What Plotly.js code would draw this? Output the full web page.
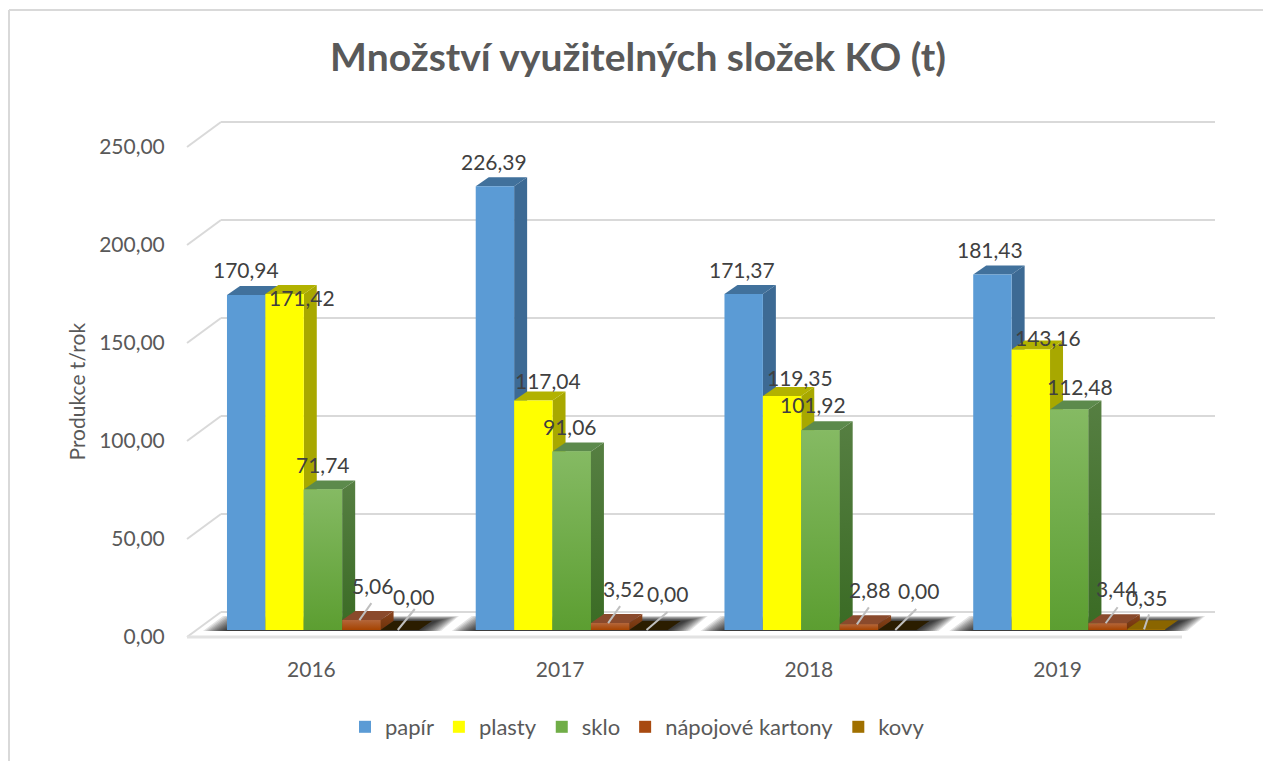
<!DOCTYPE html>
<html><head><meta charset="utf-8">
<script src="https://cdn.plot.ly/plotly-3.0.1.min.js"></script>
<style>html,body{margin:0;padding:0;background:#fff}#c{width:1263px;height:761px}</style>
</head><body><div id="c"></div>
<script>
// ---- data ----
const years = [2016, 2017, 2018, 2019];
const seriesNames = ['papír', 'plasty', 'sklo', 'nápojové kartony', 'kovy'];
const papir = [170.94, 226.39, 171.37, 181.43];
const plasty = [171.42, 117.04, 119.35, 143.16];
const sklo = [71.74, 91.06, 101.92, 112.48];
const kartony = [5.06, 3.52, 2.88, 3.44];
const kovy = [0.00, 0.00, 0.00, 0.35];
const yTicks = [0, 50, 100, 150, 200, 250];
const yTickText = ['0,00', '50,00', '100,00', '150,00', '200,00', '250,00'];

// ---- styles ----
const front = ['#5b9bd5', '#ffff00', '#70ad47', '#a84a10', '#a07000'];
const topFace = ['#41719c', '#b2b200', '#5c8a4c', '#8a4a2c', '#8a6500'];
const sideFace = ['#3d6a94', '#a8a800'];
const frontGrad = { 2: ['#5c9e31', '#85ba63'], 3: ['#a64300', '#b4663a'], 4: ['#9c6f00', '#a88436'] };
const sideGrad = { 2: ['#3a6b24', '#567f42'], 3: ['#6e3208', '#8a4520'], 4: ['#6a4c00', '#7a5a10'] };
const zeroTop = '#2b1d00';

// ---- geometry (pixels to axis units) ----
const pxYear = 248.75, pxUnit = 1.96;
const pL = 180, pR = 1220, pT = 110, pB = 641;
const x0Px = 187, y0Px = 637;          // 2015.5 and 0 on the front edge
const xr = [2015.5 - (x0Px - pL) / pxYear, 2015.5 + (pR - x0Px) / pxYear];
const yr = [-(pB - y0Px) / pxUnit, (y0Px - pT) / pxUnit];
const dX = 34 / pxYear, dY = 25 / pxUnit;     // wall depth
const sX = 13 / pxYear, sY = 9 / pxUnit;      // column depth
const base = 7 / pxUnit;                      // columns stand mid-floor
const barW = 38.4 / pxYear, firstOff = -84.4 / pxYear;
const values = [papir, plasty, sklo, kartony, kovy];
const left = (i, k) => years[i] + firstOff + k * barW;
const pathOf = pts => 'M' + pts.map(p => p[0] + ',' + p[1]).join('L') + 'Z';
const sidePts = (i, k) => { const r = left(i, k) + barW, t = base + values[k][i];
  return [[r, base], [r + sX, base + sY], [r + sX, t + sY], [r, t]]; };
const topPts = (i, k) => { const l = left(i, k), t = base + values[k][i];
  return [[l, t], [l + barW, t], [l + barW + sX, t + sY], [l + sX, t + sY]]; };
const frontPts = (i, k) => { const l = left(i, k), t = base + values[k][i];
  return [[l, base], [l + barW, base], [l + barW, t], [l, t]]; };

const shapes = [];
// chart frame
const fx = p => (p - pL) / (pR - pL), fy = p => 1 - (p - pT) / (pB - pT);
const frame = { type: 'line', xref: 'paper', yref: 'paper', line: { color: '#d9d9d9', width: 2 }, layer: 'below' };
shapes.push({ ...frame, x0: fx(9), x1: fx(9), y0: fy(10), y1: fy(761) });
shapes.push({ ...frame, x0: fx(9), x1: fx(1263), y0: fy(10), y1: fy(10) });
// grid: diagonal on the side wall plus line on the back wall
const gridLine = { color: '#d9d9d9', width: 2 };
const line = (xa, ya, xb, yb, l) => ({ type: 'line', xref: 'x', yref: 'y', layer: 'below', x0: xa, y0: ya, x1: xb, y1: yb, line: l });
const backX = 2015.5 + dX, endX = xr[1] - (pR - 1215) / pxYear;
yTicks.forEach(v => {
  shapes.push(line(2015.5, v, backX, v + dY, gridLine));
  shapes.push(line(backX, v + dY, endX, v + dY, gridLine));
});
shapes.push(line(2015.5, 0, 2019.5, 0, { color: '#e2e2e2', width: 3 }));
// soft floor shadow under each group: stacked translucent layers
const shadowInsets = [0, 2, 4, 6, 8, 10, 12, 14, 16, 18, 20, 22];
years.forEach((yr_, i) => {
  const l = left(i, 0), r = left(i, 4) + barW, u = 1 / pxYear;
  shadowInsets.forEach(g => {
    const tv = base + (14 - g * 0.22) / pxUnit, bv = base - 1 / pxUnit;
    shapes.push({ type: 'path', xref: 'x', yref: 'y', layer: 'below', opacity: 0.11, fillcolor: '#000', line: { width: 0 },
      path: pathOf([[l + (g - 24) * u, bv], [r + (22 - g) * u, bv], [r + (40 - g) * u, tv], [l + (g - 4) * u, tv]]) });
  });
});
// column depth faces that sit behind the next column
const face = (pts, c) => ({ type: 'path', xref: 'x', yref: 'y', layer: 'below', fillcolor: c, line: { width: 0 }, path: pathOf(pts) });
years.forEach((yr_, i) => {
  [0, 1, 2].forEach(k => {
    if (k < 2) shapes.push(face(sidePts(i, k), sideFace[k]));
    shapes.push(face(topPts(i, k), topFace[k]));
  });
});

// ---- traces ----
const traces = values.map((vals, k) => ({
  type: 'bar', name: seriesNames[k], x: years, y: vals, base: years.map(() => base),
  width: barW, offset: firstOff + k * barW, marker: { color: front[k], line: { width: 0 } }, hoverinfo: 'name+y'
}));
const poly = (pts, grad, flat) => {
  const t = { type: 'scatter', mode: 'lines', x: pts.map(p => p[0]).concat(pts[0][0]), y: pts.map(p => p[1]).concat(pts[0][1]),
    fill: 'toself', line: { width: 0 }, hoverinfo: 'skip', showlegend: false };
  if (grad) t.fillgradient = { type: 'vertical', colorscale: [[0, grad[0]], [1, grad[1]]] };
  else t.fillcolor = flat;
  return t;
};
years.forEach((yr_, i) => {
  traces.push(poly(frontPts(i, 2), frontGrad[2]));
  traces.push(poly(sidePts(i, 2), sideGrad[2]));
  [3, 4].forEach(k => {
    const v = values[k][i];
    traces.push(poly(sidePts(i, k), sideGrad[k]));
    traces.push(poly(topPts(i, k), null, v > 0 ? topFace[k] : zeroTop));
    if (v > 0) traces.push(poly(frontPts(i, k), frontGrad[k]));
  });
});

// ---- data labels ----
const fmt = v => v.toFixed(2).replace('.', ',');
const labelShift = [
  [[0, -25], [-1, -25], [-2, -25], [-2, -25]],
  [[17, 3], [15, -20], [18, -19], [17, -12]],
  [[0, -25], [-2, -25], [-7, -26], [11, -23]],
  [[11, -35], [13, -35], [11, -35], [9, -35]],
  [[14, -34], [19, -37], [21, -40], [0, -32]]
];
// where each small column's leader line ends, relative to the column top
const leaderEnd = {
  3: [[10, -17], [10, -17], [10, -17], [10, -16]],
  4: [[15, -21], [19, -18], [19, -21], [3, -15]]
};
const leaderLine = { color: '#bfbfbf', width: 2 };
const family = 'Lato, Carlito, sans-serif';
const labelFont = { family, size: 21, color: '#404040' };
const annotations = [];
values.forEach((vals, k) => vals.forEach((v, i) => {
  const ax = left(i, k) + barW / 2, ay = base + v, s = labelShift[k][i];
  annotations.push({ x: ax, y: ay, xref: 'x', yref: 'y', text: fmt(v), font: labelFont, xanchor: 'center', yanchor: 'middle',
    showarrow: false, xshift: s[0], yshift: -s[1] });
  if (k >= 3) {
    const e = leaderEnd[k][i];
    shapes.push({ ...line(ax - 2 / pxYear, ay, ax + e[0] / pxYear, ay - e[1] / pxUnit, leaderLine), layer: 'above' });
  }
}));
// value-axis title (sits below the axis centre in the reference)
annotations.push({ text: 'Produkce t/rok', xref: 'paper', yref: 'paper', x: fx(76), y: fy(391.5), textangle: -90, showarrow: false,
  xanchor: 'center', yanchor: 'middle', font: { family, size: 21, color: '#595959' } });

const tickFont = { family, size: 21, color: '#595959' };
const layout = {
  width: 1263, height: 761, autosize: false,
  margin: { l: pL, r: 1263 - pR, t: pT, b: 761 - pB, pad: 0 },
  paper_bgcolor: '#fff', plot_bgcolor: 'rgba(0,0,0,0)',
  barmode: 'overlay',
  title: { text: '<b>Množství využitelných složek KO (t)</b>', x: 638 / 1263, xanchor: 'center', y: 1 - 57 / 761, yanchor: 'middle',
    font: { family, size: 39, color: '#595959' } },
  xaxis: { range: xr, tickmode: 'array', tickvals: years, ticktext: years.map(String), tickfont: tickFont, showgrid: false, zeroline: false,
    showline: false, ticks: 'outside', ticklen: 10, tickcolor: 'rgba(0,0,0,0)', fixedrange: true },
  yaxis: { range: yr, tickmode: 'array', tickvals: yTicks, ticktext: yTickText, tickfont: tickFont, showgrid: false, zeroline: false,
    showline: false, ticks: 'outside', ticklen: 10, tickcolor: 'rgba(0,0,0,0)', fixedrange: true },
  legend: { orientation: 'h', x: (345 - pL) / (pR - pL), xanchor: 'left', y: 1 - (727 - pT) / (pB - pT), yanchor: 'middle',
    font: { family, size: 22, color: '#595959' }, bgcolor: 'rgba(0,0,0,0)' },
  shapes, annotations, showlegend: true
};
Plotly.newPlot('c', traces, layout, { displayModeBar: false, responsive: false });
</script></body></html>
